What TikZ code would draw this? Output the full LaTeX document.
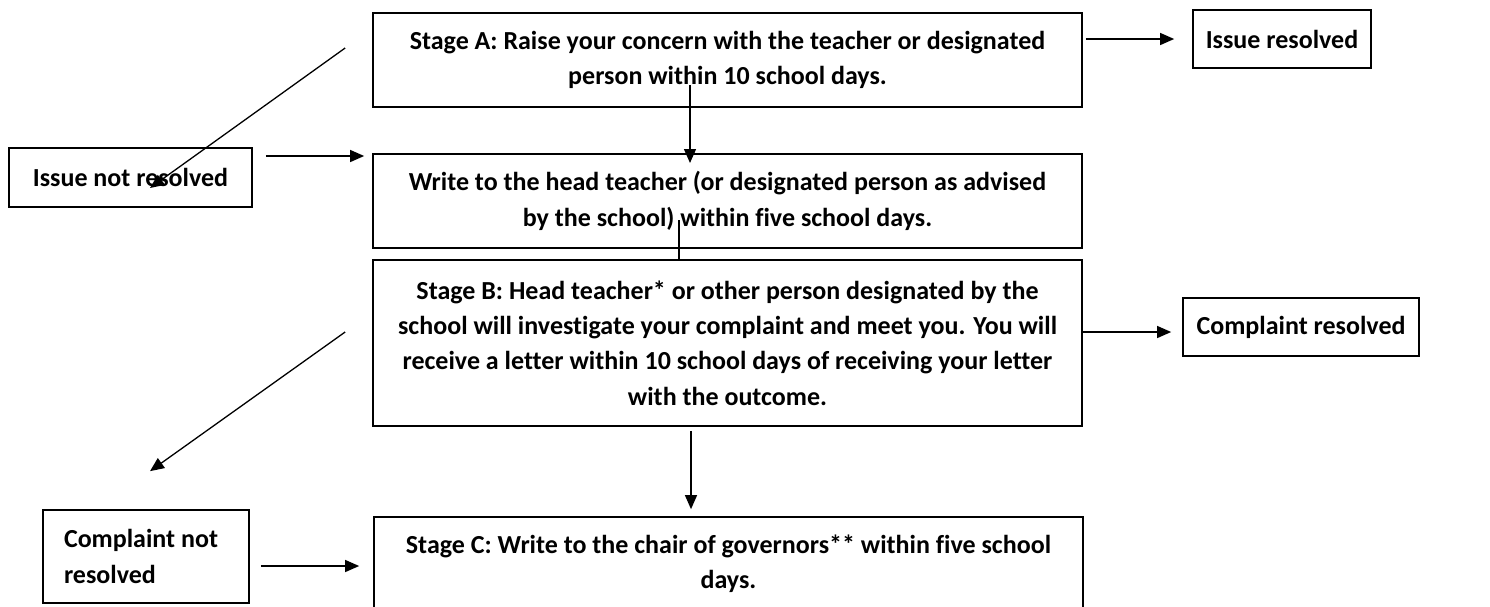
\documentclass[tikz,border=0pt]{standalone}
\usepackage{fontspec}
\setmainfont[Ligatures=NoCommon]{Carlito}
\usetikzlibrary{arrows.meta}
\begin{document}
\begin{tikzpicture}[x=1pt,y=-1pt,
  box/.style={draw, line width=1.7pt, inner sep=0pt, align=center,
    font=\fontsize{26}{35.3}\selectfont\bfseries},
  conn/.style={line width=1.3pt},
  arr/.style={conn, -{Triangle[length=14pt,width=12pt]}}]
\useasboundingbox (0,0) rectangle (1490,606);
\clip (0,0) rectangle (1490,606);
% main column
\node[box, minimum width=709pt, minimum height=94pt] (A) at (727.5,60)
  {Stage A: Raise your concern with the teacher or designated\\person within 10 school days.};
\node[box, minimum width=709pt, minimum height=94pt] (W) at (727.5,201)
  {Write to the head teacher (or designated person as advised\\by the school) within five school days.};
\node[box, minimum width=709pt, minimum height=166pt] (B) at (727.5,343)
  {Stage B: Head teacher* or other person designated by the\\school will investigate your complaint and meet you. You will\\receive a letter within 10 school days of receiving your letter\\with the outcome.};
\node[box, minimum width=709pt, minimum height=94pt] (C) at (728.5,564)
  {Stage C: Write to the chair of governors** within five school\\days.};
% side boxes
\node[box, minimum width=178pt, minimum height=58pt] (IR) at (1282,39) {Issue resolved};
\node[box, minimum width=236pt, minimum height=58pt] (CR) at (1301,327) {Complaint resolved};
\node[box, minimum width=243pt, minimum height=59pt] (INR) at (130.5,177.5) {Issue not resolved};
\node[box, minimum width=206pt, minimum height=93pt, text width=164pt, align=flush left] (CNR) at (146,556.5)
  {Complaint not\\resolved};
% connectors
\coordinate (a1) at (690,85);
\coordinate (a2) at (690,163);
\coordinate (w1) at (679,220);
\draw[arr] (a1) -- (a2);
\draw[conn] (w1) -- (w1 |- B.north);
\draw[arr] ([xshift=3pt]IR.west -| A.east) -- ([xshift=-18pt]IR.west);
\draw[arr] ([yshift=-5pt]CR.west -| B.east) -- ([xshift=-11pt,yshift=-5pt]CR.west);
\draw[arr] ([xshift=-36.5pt,yshift=-4pt]B.south) -- ([xshift=-37.5pt,yshift=7pt]C.north);
\draw[arr] ([xshift=13pt,yshift=21.5pt]INR.east) -- ([xshift=-8pt,yshift=45pt]W.west);
\draw[arr] ([xshift=-27pt,yshift=12pt]A.west) -- ([xshift=19.5pt,yshift=-10.5pt]INR.center);
\draw[arr] ([xshift=-27pt,yshift=11pt]B.west) -- ([xshift=4pt,yshift=38pt]CNR.north);
\draw[arr] ([xshift=11pt,yshift=-9.5pt]CNR.east) -- ([xshift=-14pt,yshift=-2pt]C.west);
\end{tikzpicture}
\end{document}
